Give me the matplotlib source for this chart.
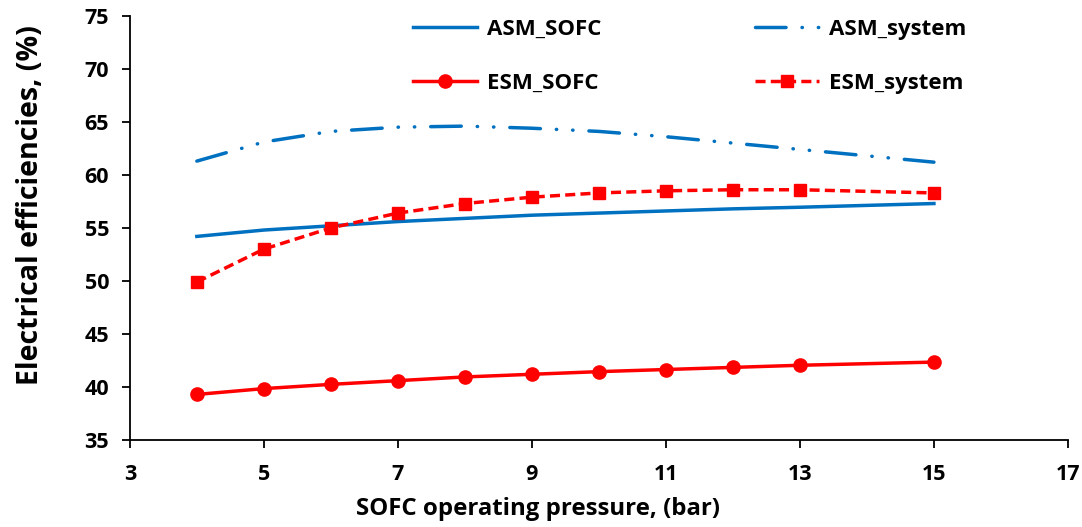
import matplotlib
matplotlib.use("Agg")
import matplotlib.pyplot as plt

plt.rcParams['font.family'] = ['Open Sans', 'DejaVu Sans']
plt.rcParams['font.weight'] = 'bold'

# data
pressure = [4, 5, 6, 7, 8, 9, 10, 11, 12, 13, 15]
asm_sofc = [54.2, 54.8, 55.2, 55.6, 55.9, 56.2, 56.4, 56.6, 56.8, 56.95, 57.3]
asm_system = [61.3, 63.1, 64.1, 64.5, 64.6, 64.4, 64.1, 63.6, 63.0, 62.4, 61.2]
esm_sofc = [39.3, 39.85, 40.25, 40.6, 40.95, 41.2, 41.45, 41.65, 41.85, 42.05, 42.35]
esm_system = [49.9, 53.0, 55.0, 56.4, 57.3, 57.9, 58.3, 58.5, 58.6, 58.6, 58.3]

blue = "#0070C0"
red = "#FF0000"

fig = plt.figure(figsize=(10.82, 5.27), dpi=100)
ax = fig.add_axes([0.120, 0.165, 0.867, 0.805])

l1, = ax.plot(pressure, asm_sofc, color=blue, lw=2.5, label="ASM_SOFC")
l2, = ax.plot(pressure, asm_system, color=blue, lw=2.5, label="ASM_system",
              linestyle=(0, (8.8, 4.6, 0.1, 4.6, 0.1, 4.6)), dash_capstyle='round')
l3, = ax.plot(pressure, esm_sofc, color=red, lw=2.5, marker='o', markersize=9.5,
              label="ESM_SOFC")
l4, = ax.plot(pressure, esm_system, color=red, lw=2.5, marker='s', markersize=9,
              linestyle=(0, (2.9, 1.5)), label="ESM_system")

ax.set_xlim(3, 17)
ax.set_ylim(35, 75)
ax.set_xticks(range(3, 18, 2))
ax.set_yticks(range(35, 76, 5))
ax.spines['top'].set_visible(False)
ax.spines['right'].set_visible(False)
ax.spines['left'].set_linewidth(1.3)
ax.spines['bottom'].set_linewidth(1.3)
ax.tick_params(axis='both', labelsize=15.5, width=1.3, length=6, direction='out')
ax.tick_params(axis='x', pad=11)
ax.tick_params(axis='y', pad=9)

ax.set_xlabel("SOFC operating pressure, (bar)", fontsize=17.3, fontweight='bold',
              va='top')
ax.xaxis.set_label_coords(0.435, -0.134)
ax.set_ylabel("Electrical efficiencies, (%)", fontsize=20.5, fontweight='bold')
ax.yaxis.set_label_coords(-0.09, 0.554)

# row order: ASM_SOFC, ASM_system / ESM_SOFC, ESM_system
ax.legend([l1, l3, l2, l4], ["ASM_SOFC", "ESM_SOFC", "ASM_system", "ESM_system"],
          loc='upper left', bbox_to_anchor=(0.28, 1.04), ncol=2, frameon=False,
          fontsize=16, handlelength=2.9, columnspacing=6.9, labelspacing=1.5,
          handletextpad=0.45)

fig.savefig("out.png", dpi=100)
